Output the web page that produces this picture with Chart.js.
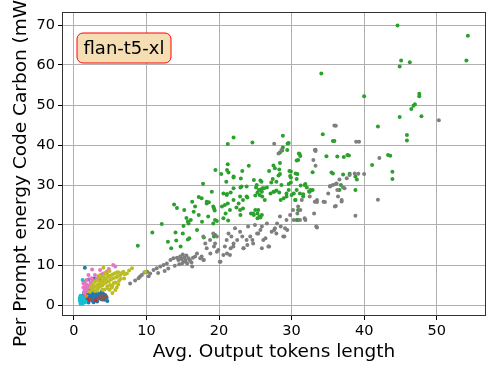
<!DOCTYPE html>
<html>
<head>
<meta charset="utf-8">
<script src="https://cdn.jsdelivr.net/npm/chart.js@4"></script>
<style>
  html, body { margin: 0; padding: 0; background: #fff; }
  #wrap { width: 498px; height: 374px; }
</style>
</head>
<body>
<div id="wrap"><canvas id="scatter" width="498" height="374"></canvas></div>
<script>
// values, [x, y]
const bluePts = [[1.5,9.3],[2.8,6.6],[1.3,2.5],[2.2,2.1],[3.1,2.5],[3.6,2.1],[2.7,3.3],[1.75,3.75],[4.05,1.7],[2.4,1.25],[2.0,2.9],[1.5,1.5],[1.8,1.0],[2.5,1.8],[2.9,1.4],[3.3,1.9],[3.5,2.8],[3.9,2.4],[4.2,1.3],[2.6,2.6],[1.6,2.2],[2.1,3.6],[3.0,3.0],[3.7,1.5],[1.2,1.8],[1.4,3.1],
  [1.7,1.9],[2.3,2.6],[2.9,2.0],[3.4,2.4],[4.0,2.9],[4.5,1.9],[4.6,1.0],[3.2,0.9],[2.7,0.7],[2.0,0.6],[1.9,1.7],[2.6,3.4],[3.8,3.3],[4.3,2.5],[1.6,2.8]];
const orangePts = [[1.4,5.75],[1.65,2.25]];
const greenPts = [[44.6,69.9],[54.3,67.3],[54.1,61.1],[45.1,61.1],[44.9,59.6],[46.3,60.7],[34.1,57.9],[40.0,52.2],[47.6,52.8],[47.6,52.2],[47.0,50.2],[46.8,49.8],[46.5,49.0],[44.9,47.0],[47.9,47.2],[41.9,44.6],[34.3,42.7],[45.9,42.5],[45.9,41.1],[35.9,41.0],[28.8,42.3],[29.6,40.5],[22.0,41.9],[21.2,40.25],[24.6,40.6],[28.8,39.4],[28.4,38.1],[28.7,38.6],[31.1,37.75],[31.2,37.25],[34.8,37.2],[36.3,37.1],[37.2,37.0],[37.9,37.4],[43.3,37.5],[43.6,37.3],[41.1,35.0],[43.9,33.3],[43.9,31.5],[38.8,28.75],[38.8,32.1],[39.0,31.4],[38.0,32.8],[37.1,32.6],[35.7,32.9],[36.8,30.0],[36.6,28.75],
  [19.5,33.75],[20.3,32.75],[21.2,35.2],[21.3,33.1],[21.0,30.8],[22.0,31.9],[23.2,33.5],[24.1,34.8],[24.8,31.25],[22.95,29.4],[25.85,30.8],[26.9,33.5],[28.4,35.5],[27.7,34.2],[27.4,31.5],[28.4,32.75],[29.9,33.4],[30.55,32.9],[30.8,32.75],[29.9,31.9],[32.9,33.2],[31.9,30.25],[30.7,31.5],[30.9,36.25],[29.9,30.6],[29.6,30.25],[31.25,29.9],[32.6,28.75],[32.9,28.75],[32.4,28.4],[31.6,27.7],[30.3,27.9],[29.6,28.75],[29.3,27.9],[28.9,26.7],[28.5,26.25],[30.55,26.25],[30.9,21.25],
  [25.2,30],[25.5,28.75],[25.9,28.3],[25.3,28.1],[25.7,28.9],[26.2,29.2],[25.0,27.4],[25.95,27.1],[27.1,27.9],[27.6,28.3],[27.9,28.6],[28.3,28.1],[27.2,30.6],[27.9,30.8],[25.0,23.75],[25.3,22.9],[25.7,21.9],[25.9,22.5],[25.3,21.7],[24.8,22.5],[24.4,22.9],[23.9,26.9],[23.3,26.25],[22.7,25.4],[22.4,24.4],[22.95,22.5],[23.3,24.1],[20.6,27.9],[21.1,27.75],[21.6,28.1],[22.0,26.25],[21.2,25.4],[20.4,24.6],[20.9,22.9],[21.25,21.1],[20.6,21.7],[19.7,21.0],[19.0,28.3],[18.3,25.4],[18.6,25.7],[19.3,24.2],[19.4,23.6],[17.65,20.8],[17.2,22.5],[16.7,24.6],[16.5,23.3],[16.3,25.8],[17.2,27.0],[17.8,30.3],[13.8,25.1],[14.2,24.25],[15.2,23.75],[15.5,21.75],[15.7,20.9],[16.1,21.25],[15.8,20.4],[15.1,19.75],[15.0,17.9],[14.0,18.1],[14.1,16.1],[12.95,15.8],[12.1,20.25],[10.8,18.1],[14.7,14.6],[13.4,14.2],[8.8,14.8],[15.7,16.4],[15.9,16.7],[17.9,16.9],[19.3,17.1],[19.45,17.5],[16.96,18.75],
  [29.45,40.4],[29.4,38.75],[31.0,37.9],[30.7,36.1],[35.7,41.0],[37.7,37.5],[21.1,33.75],[22.0,32.1],[23.0,31.6],[27.5,34.9],[28.3,33.9],[28.2,32.4],[29.7,33.5],[29.8,32.25],[35.5,33.1],
  [25.7,31.1],[25.1,29.4],[26.0,29.2],[26.6,29.4],[25.6,27.5],[26.3,26.25],[25.4,23.75],[25.6,22.1],[24.7,22.9],[23.8,27.1],[22.9,27.1],[22.9,23.75],[21.5,23.75],[20.8,25.0],[21.05,27.5],[22.0,29.2],[23.1,29.6],[23.8,29.6],[18.3,25.8],[19.2,24.6],[18.5,22.1],[19.45,21.25],[19.2,20.4],[17.6,26.7],[27.5,28.3],[28.6,30.0],[29.3,27.1],[30.0,27.5],[30.7,28.75],[30.5,26.25],[31.15,27.9],[31.8,30.0],[32.1,29.4],[32.5,28.3],[31.6,27.1],[30.9,23.75],[30.7,21.25]];
const redPts = [[3.0,1.2],[2.0,1.4]];
const purplePts = [[2.0,6.4],[1.5,3.6]];
const brownPts = [[3.6,6.4],[3.4,1.7],[3.8,2.25],[2.3,1.5],[4.1,1.8],[4.4,2.2],[3.9,1.4]];
const pinkPts = [[2.5,8.9],[5.4,10.0],[5.7,9.6],[4.05,7.9],[3.4,7.1],[2.4,6.7],[1.75,6.25],[2.0,7.5],[2.9,7.5],[3.6,8.75],[4.5,8.3],[1.3,5.4],[2.2,5.0],[1.6,4.6],[2.6,6.1],[3.1,6.5],[1.9,4.2],[3.8,7.6],[4.8,9.0],[2.3,5.6],
  [1.4,3.0],[1.5,3.8],[1.8,3.4],[2.1,4.6],[1.3,4.4],[1.7,5.2],[2.6,4.4]];
const grayPts = [[50.3,46.2],[35.9,44.9],[36.1,44.8],[39.3,40.8],[27.6,40.3],[33.3,38.8],[33.3,38.5],[42.1,36.75],[33.3,34.8],[40.0,32.75],[41.9,26.3],[38.8,22.3],[39.2,32.8],[36.6,31.4],[36.1,30.25],[35.3,29.75],[37.1,29.4],[36.3,28.75],[36.9,25.9],[36.1,24.75],[34.6,25.75],[33.5,25.75],[33.5,19.4],
  [7.74,5.4],[8.43,6.1],[8.9,6.7],[9.1,7.1],[9.35,7.5],[9.7,8.1],[10.1,8.3],[10.5,7.9],[10.97,8.75],[11.4,9.2],[11.9,9.6],[12.35,10.0],[12.8,10.4],[13.3,11.25],[13.7,11.7],[14.4,11.25],[14.65,12.1],[14.9,10.4],[15.1,10.8],[15.35,11.25],[15.6,10.4],[15.8,11.7],[16.0,11.1],[16.3,9.6],[16.7,12.1],[16.96,12.9],[17.4,11.7],[17.9,11.25],[18.3,14.2],[18.8,12.9],[19.3,14.6],[19.7,13.3],[20.2,10.8],[20.6,12.5],[21.1,12.9],[21.6,14.2],[22.0,15.4],[22.5,16.25],[23.2,17.1],[23.4,14.2],[23.9,15.0],[24.6,16.25],[25.25,17.9],[25.7,18.75],[25.9,14.2],[26.4,16.7],[26.9,14.6],[27.6,18.75],[28.0,20.4],[28.5,19.6],[29.0,17.1],[29.4,18.75],[30.3,21.25],[30.8,22.9],[31.2,23.75],[31.9,21.25],[33.1,22.9],[33.5,26.25],
  [17.84,11.25],[17.6,12.1],[18.1,15.4],[17.84,17.1],[18.76,16.25],[19.2,17.9],[19.7,17.1],[19.45,15.4],[19.9,13.75],[20.1,10.8],[20.8,14.6],[21.05,16.25],[21.3,17.9],[21.7,17.1],[21.97,14.6],[21.5,12.5],[22.2,19.2],[22.9,18.3],[23.35,14.2],[23.8,16.25],[24.3,17.1],[24.7,15.4],[24.0,19.6],[24.95,20.0],[25.4,17.9],[25.9,19.6],[26.6,20.4],[26.8,14.6],[27.25,18.3],[26.1,16.25],[27.7,19.2],[27.9,17.9],[28.4,22.1],[29.1,19.2],[29.3,21.25],[29.8,22.5],[28.85,17.1],[30.2,23.75],[30.9,24.6],[31.4,26.25],[31.15,21.25],[31.8,21.7],[32.5,27.1],[33.2,25.8],[33.4,19.6],[34.4,25.8],[35.05,27.9],[35.3,29.6],[35.7,30.0],[36.2,30.4],[35.96,24.6],[36.4,27.1],[36.9,26.25],[37.3,29.2],[37.6,31.7],[38.0,32.5],[38.7,32.9],[28.2,37.9],[28.6,38.75],[33.2,38.75],[33.0,36.25],[38.9,40.8],
  [14.8,11.5],[15.2,11.9],[15.5,12.4],[14.5,10.2],[16.2,10.6],[13.9,9.8],[12.5,8.5],[11.6,8.0],[13.0,9.1],[10.3,7.2],[15.0,12.6],[15.4,10.9],[14.2,11.8],[16.4,11.8]];
const olivePts = [[2.2,3.3],[2.5,3.8],[2.7,4.2],[2.9,3.5],[3.0,4.6],[3.2,5.0],[3.3,4.1],[3.5,5.4],[3.6,4.6],[3.8,5.8],[3.9,4.9],[4.0,6.2],[4.1,5.3],[4.2,3.9],[4.3,6.6],[4.4,5.6],[4.5,6.25],[4.6,4.7],[4.7,7.0],[4.8,5.9],[4.9,3.8],[5.0,5.0],[5.0,7.3],[5.1,6.4],[5.2,4.4],[5.3,7.6],[5.4,6.7],[5.5,5.5],[5.6,7.9],[5.7,3.75],[5.8,6.9],[5.9,8.1],[6.0,7.2],[6.1,8.2],[6.2,6.0],[6.4,7.5],[6.6,8.0],[6.8,8.3],[7.0,7.7],[7.3,7.9],[7.6,8.6],[8.0,9.2],[9.8,8.3],[4.05,9.3],[5.3,3.0],[6.1,5.1],
  [2.3,4.5],[2.6,5.2],[2.9,5.8],[3.3,6.2],[3.7,6.8],[4.1,7.1],[4.6,7.6],[3.2,3.6],[3.9,3.8],[4.6,4.2],[5.3,4.8],[5.7,5.6],[6.4,6.5],[6.9,6.6],[5.9,4.4],[4.9,8.5],[4.3,8.0],[3.5,7.4]];
const cyanPts = [[1.2,6.25],[0.8,1.0],[1.0,1.5],[1.2,2.0],[1.1,0.8],[1.4,1.2],[1.6,0.9],[0.9,2.3],[1.0,0.6],[0.85,1.9],[1.5,0.7],
  [0.9,0.3],[1.2,0.4],[1.3,1.6],[0.8,1.6],[1.0,2.0]];

const xTicks = [0, 10, 20, 30, 40, 50];
const yTicks = [0, 10, 20, 30, 40, 50, 60, 70];
const modelName = 'flan-t5-xl';

// matplotlib draws later series on top; in Chart.js lower order = on top
const series = [
  [bluePts, '#1f77b4'], [orangePts, '#ff7f0e'], [greenPts, '#2ca02c'],
  [redPts, '#d62728'], [purplePts, '#9467bd'], [brownPts, '#8c564b'],
  [pinkPts, '#e377c2'], [grayPts, '#7f7f7f'], [olivePts, '#bcbd22'],
  [cyanPts, '#17becf']
];
const datasets = series.map(([pts, col], i) => ({
  data: pts.map(p => ({ x: p[0], y: p[1] })),
  backgroundColor: col,
  borderWidth: 0,
  pointRadius: 2,
  order: series.length - i
}));

const frameAndLabel = {
  id: 'frameAndLabel',
  afterDatasetsDraw(chart) {
    const { ctx, chartArea: a } = chart;
    ctx.save();
    ctx.strokeStyle = '#333';
    ctx.lineWidth = 1;
    ctx.strokeRect(a.left + 0.5, a.top + 0.5, a.width - 1, a.height - 1);
    // label box
    const bx = a.left + 15, by = a.top + 21, bw = 94, bh = 30, r = 6;
    ctx.beginPath();
    ctx.roundRect(bx, by, bw, bh, r);
    ctx.fillStyle = '#f5deb3';
    ctx.fill();
    ctx.strokeStyle = '#ff0000';
    ctx.stroke();
    ctx.fillStyle = '#000';
    ctx.font = '18px "DejaVu Sans"';
    ctx.textAlign = 'center';
    ctx.textBaseline = 'middle';
    ctx.fillText(modelName, bx + bw / 2, by + bh / 2 + 1);
    ctx.restore();
  }
};

const tickFont = { family: 'DejaVu Sans', size: 14.5 };
const titleFont = { family: 'DejaVu Sans', size: 18.5 };

new Chart(document.getElementById('scatter'), {
  type: 'scatter',
  data: { datasets },
  options: {
    responsive: false,
    animation: false,
    layout: { padding: { top: 12, right: 12, left: 0, bottom: 11 } },
    plugins: { legend: { display: false }, tooltip: { enabled: false } },
    scales: {
      x: {
        type: 'linear',
        min: -1.65,
        max: 56.8,
        afterBuildTicks: s => { s.ticks = xTicks.map(v => ({ value: v })); },
        afterFit: s => { s.height = 47; },
        grid: { color: '#b0b0b0', tickColor: '#000', tickLength: 4, lineWidth: 1 },
        border: { display: false },
        ticks: { font: tickFont, color: '#000', padding: 3, maxRotation: 0 },
        title: { display: true, text: 'Avg. Output tokens length', font: titleFont, color: '#000', padding: { top: 0, bottom: 0 } }
      },
      y: {
        type: 'linear',
        min: -2.75,
        max: 73.25,
        afterBuildTicks: s => { s.ticks = yTicks.map(v => ({ value: v })); },
        afterFit: s => { s.width = 62; },
        grid: { color: '#b0b0b0', tickColor: '#000', tickLength: 4, lineWidth: 1 },
        border: { display: false },
        ticks: { font: tickFont, color: '#000', padding: 3 },
        title: { display: true, text: 'Per Prompt energy Code Carbon (mWh)', font: titleFont, color: '#000', padding: { top: 10, bottom: 0 } }
      }
    }
  },
  plugins: [frameAndLabel]
});
</script>
</body>
</html>
